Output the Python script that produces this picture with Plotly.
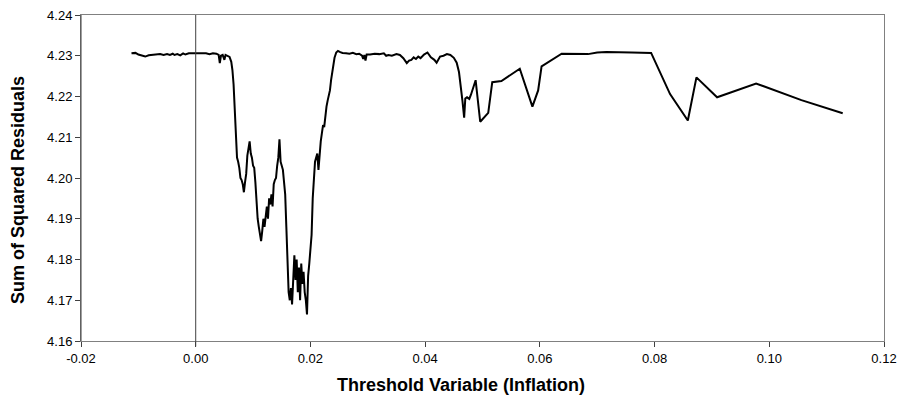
import plotly.graph_objects as go

threshold = [
    -0.0112, -0.0105, -0.0100, -0.0093, -0.0088, -0.0082, -0.0075, -0.0068, -0.0062, -0.0056,
    -0.0050, -0.0045, -0.0040, -0.0037, -0.0032, -0.0027, -0.0022, -0.0018, -0.0012, -0.0005,
    0.0005, 0.0012, 0.0018, 0.0024, 0.0030, 0.0036, 0.0040, 0.0042, 0.0044, 0.0047,
    0.0050, 0.0052, 0.0056, 0.0059, 0.0062, 0.0064, 0.0066, 0.0068, 0.0070, 0.0072,
    0.0074, 0.0076, 0.0078, 0.0080, 0.0082, 0.0084, 0.0086, 0.0088, 0.0090, 0.0092,
    0.0094, 0.0096, 0.0098, 0.0100, 0.0102, 0.0104, 0.0106, 0.0108, 0.0110, 0.0112,
    0.0114, 0.0116, 0.0118, 0.0120, 0.0122, 0.0124, 0.0126, 0.0128, 0.0130, 0.0132,
    0.0134, 0.0136, 0.0138, 0.0140, 0.0142, 0.0144, 0.0146, 0.0148, 0.0150, 0.0152,
    0.0154, 0.0156, 0.0158, 0.0160, 0.0162, 0.0164, 0.0166, 0.0168, 0.0170, 0.0172,
    0.0174, 0.0176, 0.0178, 0.0180, 0.0182, 0.0184, 0.0186, 0.0188, 0.0190, 0.0192,
    0.0194, 0.0196, 0.0198, 0.0200, 0.0202, 0.0204, 0.0206, 0.0208, 0.0210, 0.0212,
    0.0214, 0.0216, 0.0218, 0.0220, 0.0222, 0.0224, 0.0226, 0.0228, 0.0230, 0.0232,
    0.0234, 0.0236, 0.0238, 0.0240, 0.0242, 0.0245, 0.0248, 0.0252, 0.0256, 0.0262,
    0.0268, 0.0274, 0.0280, 0.0285, 0.0290, 0.0292, 0.0294, 0.0296, 0.0298, 0.0304,
    0.0312, 0.0320, 0.0328, 0.0332, 0.0336, 0.0342, 0.0350, 0.0356, 0.0362, 0.0368,
    0.0372, 0.0376, 0.0380, 0.0384, 0.0388, 0.0392, 0.0398, 0.0404, 0.0410, 0.0416,
    0.0420, 0.0426, 0.0432, 0.0438, 0.0444, 0.0450, 0.0455, 0.0459, 0.0462, 0.0465,
    0.0468, 0.0470, 0.0473, 0.0477, 0.0480, 0.0488, 0.0496, 0.0510, 0.0517, 0.0533,
    0.0565, 0.0587, 0.0597, 0.0603, 0.0638, 0.0684, 0.0700, 0.0716, 0.0760, 0.0794,
    0.0827, 0.0858, 0.0873, 0.0909, 0.0977, 0.1056, 0.1128,
]

ssr = [
    4.2306, 4.2307, 4.2303, 4.2299, 4.2298, 4.2301, 4.2302, 4.2303, 4.2304, 4.2302,
    4.2304, 4.2302, 4.2305, 4.2302, 4.2304, 4.2301, 4.2306, 4.2303, 4.2306, 4.2306,
    4.2306, 4.2305, 4.2306, 4.2304, 4.2306, 4.2305, 4.2302, 4.2282, 4.2300, 4.2302,
    4.2290, 4.2302, 4.2300, 4.2297, 4.2285, 4.2265, 4.2230, 4.2170, 4.2100, 4.2050,
    4.2040, 4.2025, 4.2000, 4.1995, 4.1985, 4.1965, 4.1990, 4.2010, 4.2055, 4.2080,
    4.2090, 4.2060, 4.2050, 4.2030, 4.2025, 4.1990, 4.1940, 4.1900, 4.1880, 4.1860,
    4.1845, 4.1870, 4.1900, 4.1880, 4.1910, 4.1930, 4.1900, 4.1950, 4.1935, 4.1960,
    4.1930, 4.1985, 4.1995, 4.2000, 4.2030, 4.2050, 4.2095, 4.2040, 4.2030, 4.2020,
    4.1990, 4.1960, 4.1880, 4.1800, 4.1720, 4.1700, 4.1730, 4.1690, 4.1760, 4.1810,
    4.1750, 4.1800, 4.1720, 4.1780, 4.1700, 4.1790, 4.1740, 4.1770, 4.1720, 4.1700,
    4.1665, 4.1760, 4.1790, 4.1820, 4.1860, 4.1950, 4.2000, 4.2040, 4.2050, 4.2060,
    4.2020, 4.2060, 4.2090, 4.2110, 4.2130, 4.2125, 4.2160, 4.2175, 4.2190, 4.2200,
    4.2215, 4.2240, 4.2260, 4.2280, 4.2295, 4.2308, 4.2312, 4.2309, 4.2307, 4.2306,
    4.2305, 4.2307, 4.2304, 4.2305, 4.2300, 4.2292, 4.2302, 4.2288, 4.2303, 4.2303,
    4.2305, 4.2304, 4.2306, 4.2300, 4.2302, 4.2300, 4.2304, 4.2302, 4.2294, 4.2282,
    4.2288, 4.2290, 4.2296, 4.2292, 4.2298, 4.2294, 4.2303, 4.2308, 4.2296, 4.2290,
    4.2283, 4.2298, 4.2300, 4.2304, 4.2302, 4.2295, 4.2283, 4.2260, 4.2230, 4.2190,
    4.2148, 4.2195, 4.2198, 4.2194, 4.2205, 4.2240, 4.2138, 4.2160, 4.2235, 4.2238,
    4.2268, 4.2175, 4.2215, 4.2274, 4.2305, 4.2304, 4.2308, 4.2309, 4.2308, 4.2307,
    4.2206, 4.2141, 4.2247, 4.2198, 4.2232, 4.2191, 4.2159,
]

x_ticks = [-0.02, 0.00, 0.02, 0.04, 0.06, 0.08, 0.10, 0.12]
y_ticks = [4.16, 4.17, 4.18, 4.19, 4.20, 4.21, 4.22, 4.23, 4.24]

font_family = "Liberation Sans, Arial, sans-serif"

fig = go.Figure()
fig.add_trace(go.Scatter(
    x=threshold, y=ssr, mode="lines",
    line=dict(color="black", width=2),
    showlegend=False, hoverinfo="skip",
))

# vertical line at x = 0
fig.add_shape(type="line", xref="x", yref="paper", x0=0, x1=0, y0=-0.017, y1=1,
              line=dict(color="#404040", width=1))
# darker left axis
fig.add_shape(type="line", xref="paper", yref="paper", x0=0, x1=0, y0=0, y1=1,
              line=dict(color="#404040", width=1))

fig.update_layout(
    width=902, height=402,
    margin=dict(l=81, r=18, t=15, b=61, autoexpand=False),
    paper_bgcolor="white", plot_bgcolor="white",
    font=dict(family=font_family, color="black", size=13),
    annotations=[
        dict(text="<b>Threshold Variable (Inflation)</b>", xref="paper", yref="paper",
             x=0.5, xshift=-22, y=-0.0, yshift=-44, xanchor="center", yanchor="middle",
             showarrow=False, font=dict(size=18, family=font_family, color="black")),
        dict(text="<b>Sum of Squared Residuals</b>", xref="paper", yref="paper",
             x=0, xshift=-63, y=0.5, yshift=-12, xanchor="center", yanchor="middle", textangle=-90,
             showarrow=False, font=dict(size=18, family=font_family, color="black")),
    ],
)
fig.update_xaxes(
    range=[-0.02, 0.12], tickvals=x_ticks, ticktext=[f"{v:.2f}" for v in x_ticks],
    showgrid=False, zeroline=False, automargin=False,
    showline=True, linecolor="#808080", linewidth=1, mirror=True,
    ticks="outside", ticklen=5, tickcolor="#404040", tickwidth=1,
    tickfont=dict(size=13, family=font_family, color="black"),
)
fig.update_yaxes(
    range=[4.16, 4.24], tickvals=y_ticks, ticktext=[f"{v:.2f}" for v in y_ticks],
    showgrid=False, zeroline=False, automargin=False,
    showline=True, linecolor="#808080", linewidth=1, mirror=True,
    ticks="outside", ticklen=5, tickcolor="#404040", tickwidth=1,
    tickfont=dict(size=13, family=font_family, color="black"),
)

fig.write_html(
    "out.html",
    config={"displayModeBar": False, "staticPlot": True},
    post_script="document.body.style.margin='0';document.body.style.overflow='hidden';",
)
